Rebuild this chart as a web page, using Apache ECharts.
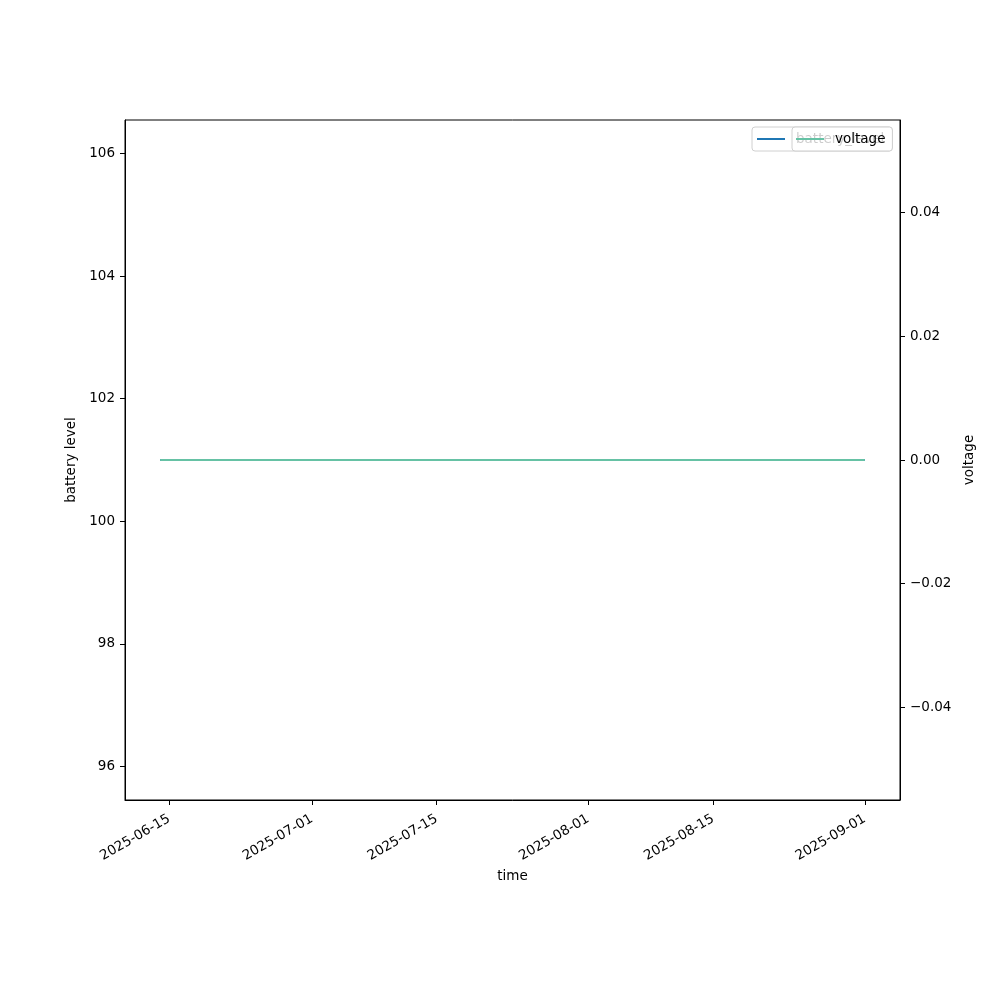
<!DOCTYPE html>
<html>
<head>
<meta charset="utf-8">
<script src="https://cdn.jsdelivr.net/npm/echarts@6/dist/echarts.min.js"></script>
<style>html,body{margin:0;padding:0;background:#fff}#c{width:1000px;height:1000px}</style>
</head>
<body>
<div id="c"></div>
<script>
const times = ['2025-06-14', '2025-09-01'];
const batteryLevel = [101, 101];
const voltage = [0, 0];
const xTickLabels = ['2025-06-15', '2025-07-01', '2025-07-15', '2025-08-01', '2025-08-15', '2025-09-01'];
const leftTicks = [96, 98, 100, 102, 104, 106];
const rightTicks = [-0.04, -0.02, 0.00, 0.02, 0.04];

const toMs = s => Date.UTC(+s.slice(0, 4), +s.slice(5, 7) - 1, +s.slice(8, 10));
const ts = times.map(toMs);
const span = ts[ts.length - 1] - ts[0];
const xMin = ts[0] - span * 0.05;
const xMax = ts[ts.length - 1] + span * 0.05;
const xTickVals = xTickLabels.map(toMs);
const fmtDate = v => { const d = new Date(v); const p = n => String(n).padStart(2, '0'); return d.getUTCFullYear() + '-' + p(d.getUTCMonth() + 1) + '-' + p(d.getUTCDate()); };

const font = 'DejaVu Sans';
const chart = echarts.init(document.getElementById('c'), null, {renderer: 'canvas'});
chart.setOption({
  animation: false,
  backgroundColor: '#fff',
  textStyle: {fontFamily: font},
  grid: {left: 125, right: 100, top: 120, bottom: 200, show: true, borderColor: '#000', borderWidth: 1, backgroundColor: 'transparent'},
  legend: [
    {data: ['battery_level'], left: 752, top: 127, z: 2, padding: [5, 8, 5, 5],
     itemWidth: 28, itemHeight: 2, icon: 'rect',
     backgroundColor: 'rgba(255,255,255,0.8)', borderColor: '#d0d0d0', borderWidth: 1, borderRadius: 3,
     textStyle: {fontFamily: font, fontSize: 13.5, color: '#000', padding: [0, 0, 0, 6]}},
    {data: ['voltage'], left: 792, top: 127, z: 3, padding: [5, 7, 5, 4],
     itemWidth: 28, itemHeight: 2, icon: 'rect',
     backgroundColor: 'rgba(255,255,255,0.8)', borderColor: '#d0d0d0', borderWidth: 1, borderRadius: 3,
     textStyle: {fontFamily: font, fontSize: 13.5, color: '#000', padding: [0, 0, 0, 6]}}
  ],
  xAxis: {
    type: 'value', min: xMin, max: xMax, scale: true,
    name: 'time', nameLocation: 'middle', nameGap: 64,
    nameTextStyle: {fontFamily: font, fontSize: 13.5, color: '#000'},
    axisLine: {show: true, onZero: false, lineStyle: {color: '#000', width: 1}},
    axisTick: {show: true, length: 5, lineStyle: {color: '#000'}, customValues: xTickVals},
    axisLabel: {customValues: xTickVals, rotate: 30, margin: 18, fontFamily: font, fontSize: 13.5, color: '#000',
      formatter: fmtDate},
    splitLine: {show: false}
  },
  yAxis: [
    {type: 'value', min: 95.45, max: 106.55, position: 'left',
     name: 'battery level', nameLocation: 'middle', nameGap: 45,
     nameTextStyle: {fontFamily: font, fontSize: 13.5, color: '#000'},
     axisLine: {show: true, onZero: false, lineStyle: {color: '#000'}},
     axisTick: {show: true, length: 5, lineStyle: {color: '#000'}, customValues: leftTicks},
     axisLabel: {customValues: leftTicks, margin: 10, fontFamily: font, fontSize: 13.5, color: '#000'},
     splitLine: {show: false}},
    {type: 'value', min: -0.055, max: 0.055, position: 'right',
     name: 'voltage', nameLocation: 'middle', nameGap: 56,
     nameTextStyle: {fontFamily: font, fontSize: 13.5, color: '#000'},
     axisLine: {show: true, onZero: false, lineStyle: {color: '#000'}},
     axisTick: {show: true, length: 5, lineStyle: {color: '#000'}, customValues: rightTicks},
     axisLabel: {customValues: rightTicks, margin: 10, fontFamily: font, fontSize: 13.5, color: '#000',
       formatter: v => v.toFixed(2).replace('-', '\u2212')},
     splitLine: {show: false}}
  ],
  series: [
    {name: 'battery_level', type: 'line', yAxisIndex: 0, showSymbol: false, symbol: 'none',
     data: ts.map((t, i) => [t, batteryLevel[i]]), lineStyle: {color: '#1f77b4', width: 2}, itemStyle: {color: '#1f77b4'}},
    {name: 'voltage', type: 'line', yAxisIndex: 1, showSymbol: false, symbol: 'none',
     data: ts.map((t, i) => [t, voltage[i]]), lineStyle: {color: '#66c2a5', width: 2}, itemStyle: {color: '#66c2a5'}}
  ]
});
</script>
</body>
</html>
